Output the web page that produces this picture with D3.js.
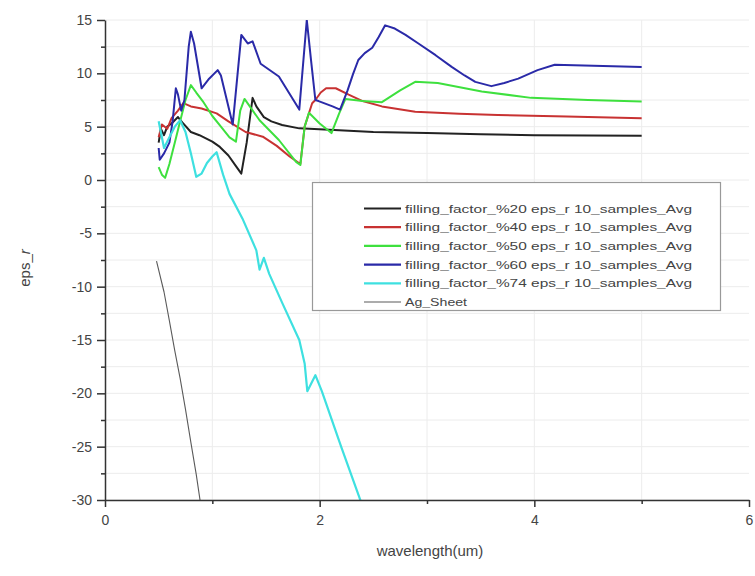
<!DOCTYPE html>
<html>
<head>
<meta charset="utf-8">
<script src="https://cdn.jsdelivr.net/npm/d3@7"></script>
<style>
  body { margin: 0; background: #fff; }
  svg { font-family: "Liberation Sans", Arial, sans-serif; }
</style>
</head>
<body>
<svg id="chart" width="755" height="576"></svg>
<script>
// Relative permittivity vs. wavelength for several filling factors
const ff20 = [[0.5,3.5],[0.52,4.8],[0.55,4.2],[0.58,5.0],[0.62,5.3],[0.68,5.9],[0.72,5.4],[0.8,4.5],[0.88,4.2],[1.0,3.6],[1.07,3.1],[1.15,2.3],[1.22,1.3],[1.27,0.6],[1.32,3.5],[1.375,7.7],[1.41,6.9],[1.48,5.9],[1.55,5.5],[1.65,5.15],[1.81,4.84],[2.09,4.7],[2.5,4.5],[3.0,4.4],[3.5,4.3],[4.0,4.2],[5.0,4.15]];
const ff40 = [[0.5,4.0],[0.53,5.2],[0.58,4.8],[0.62,5.8],[0.68,6.5],[0.73,7.2],[0.8,6.9],[0.9,6.7],[1.04,6.25],[1.15,5.5],[1.31,4.5],[1.47,4.06],[1.6,3.2],[1.72,2.2],[1.82,1.5],[1.86,5.0],[1.93,7.2],[1.96,7.5],[2.01,8.2],[2.06,8.6],[2.15,8.6],[2.27,8.0],[2.4,7.4],[2.58,6.9],[2.89,6.4],[3.3,6.2],[3.66,6.1],[4.3,5.95],[5.0,5.8]];
const ff50 = [[0.5,1.2],[0.53,0.5],[0.56,0.2],[0.6,1.5],[0.65,3.5],[0.7,5.5],[0.75,7.5],[0.8,8.9],[0.85,8.2],[0.91,7.4],[1.0,6.0],[1.08,5.0],[1.16,4.0],[1.22,3.6],[1.26,6.5],[1.3,7.6],[1.44,5.6],[1.62,3.75],[1.78,1.7],[1.82,1.4],[1.86,5.0],[1.9,6.3],[2.0,5.3],[2.11,4.4],[2.18,6.2],[2.24,7.6],[2.4,7.4],[2.58,7.3],[2.75,8.4],[2.89,9.2],[3.1,9.1],[3.51,8.3],[3.97,7.7],[4.5,7.5],[5.0,7.35]];
const ff60 = [[0.5,3.0],[0.51,1.9],[0.55,2.5],[0.6,3.5],[0.63,5.5],[0.66,8.6],[0.68,8.0],[0.71,6.5],[0.74,7.5],[0.78,12.5],[0.8,13.9],[0.83,12.8],[0.9,8.6],[0.97,9.5],[1.05,10.3],[1.08,9.8],[1.19,5.2],[1.27,13.6],[1.33,12.8],[1.375,13.0],[1.45,10.9],[1.62,9.7],[1.81,6.6],[1.88,15.0],[1.92,11.2],[1.96,7.5],[1.99,7.4],[2.12,6.9],[2.19,6.6],[2.26,8.4],[2.31,9.9],[2.36,11.25],[2.42,11.9],[2.49,12.4],[2.55,13.4],[2.61,14.5],[2.7,14.2],[2.8,13.6],[2.92,12.8],[3.08,11.7],[3.23,10.6],[3.35,9.8],[3.45,9.2],[3.6,8.8],[3.72,9.1],[3.85,9.5],[4.03,10.3],[4.19,10.8],[5.0,10.6]];
const ff74 = [[0.5,5.5],[0.55,3.0],[0.6,4.0],[0.65,5.0],[0.7,5.6],[0.75,4.5],[0.8,2.5],[0.85,0.3],[0.9,0.6],[0.95,1.6],[1.0,2.2],[1.04,2.6],[1.1,0.5],[1.16,-1.3],[1.28,-3.6],[1.41,-6.6],[1.44,-8.4],[1.48,-7.3],[1.53,-8.8],[1.65,-11.5],[1.81,-15],[1.86,-17.2],[1.885,-19.8],[1.96,-18.3],[2.02,-19.8],[2.2,-25],[2.4,-30.6]];
const agSheet = [[0.48,-7.6],[0.55,-10.5],[0.6,-13.2],[0.65,-16],[0.7,-18.6],[0.75,-21.5],[0.8,-24.6],[0.85,-27.6],[0.9,-31]];

const seriesNames = [
  "filling_factor_%20 eps_r 10_samples_Avg",
  "filling_factor_%40 eps_r 10_samples_Avg",
  "filling_factor_%50 eps_r 10_samples_Avg",
  "filling_factor_%60 eps_r 10_samples_Avg",
  "filling_factor_%74 eps_r 10_samples_Avg",
  "Ag_Sheet"
];
const seriesData = [ff20, ff40, ff50, ff60, ff74, agSheet];
const seriesColors = ["#222222", "#c83232", "#3ee03e", "#2a2aa8", "#3ee0e0", "#5a5a5a"];
const seriesWidths = [2, 2, 2, 2, 2.2, 1.1];

const xTicks = [0, 2, 4, 6];
const xMinorTicks = [1, 3, 5];
const yTicks = [15, 10, 5, 0, -5, -10, -15, -20, -25, -30];
const yMinorTicks = [12.5, 7.5, 2.5, -2.5, -7.5, -12.5, -17.5, -22.5, -27.5];

const svg = d3.select("#chart");
const margin = { left: 105, top: 20, right: 6, bottom: 76 };
const W = 755 - margin.left - margin.right;
const H = 576 - margin.top - margin.bottom;

const x = d3.scaleLinear().domain([0, 6]).range([margin.left, margin.left + W]);
const y = d3.scaleLinear().domain([-30, 15]).range([margin.top + H, margin.top]);

// faint grid
const grid = svg.append("g").attr("stroke", "#ececec").attr("stroke-width", 1);
[...yTicks, ...yMinorTicks].forEach(v => {
  grid.append("line").attr("x1", x(0)).attr("x2", x(6)).attr("y1", y(v)).attr("y2", y(v));
});
[1, 2, 3, 4, 5].forEach(v => {
  grid.append("line").attr("x1", x(v)).attr("x2", x(v)).attr("y1", y(-30)).attr("y2", y(15));
});

svg.append("defs").append("clipPath").attr("id", "plotClip")
  .append("rect").attr("x", margin.left).attr("y", margin.top).attr("width", W).attr("height", H);

const line = d3.line().x(d => x(d[0])).y(d => y(d[1]));
const plot = svg.append("g").attr("clip-path", "url(#plotClip)");
seriesData.forEach((data, i) => {
  plot.append("path").datum(data)
    .attr("fill", "none")
    .attr("stroke", seriesColors[i])
    .attr("stroke-width", seriesWidths[i])
    .attr("stroke-linejoin", "round")
    .attr("d", line);
});

// axes (plain hyphen for negative labels)
const fmt = d => String(d);
const axisColor = "#333";
const xAxis = svg.append("g").attr("transform", `translate(0,${margin.top + H})`)
  .call(d3.axisBottom(x).tickValues(xTicks).tickFormat(fmt).tickSizeInner(7).tickSizeOuter(0).tickPadding(8));
const xMinor = svg.append("g").attr("transform", `translate(0,${margin.top + H})`)
  .call(d3.axisBottom(x).tickValues(xMinorTicks).tickFormat("").tickSizeInner(4).tickSizeOuter(0));
xMinor.select(".domain").remove();

const yAxis = svg.append("g").attr("transform", `translate(${margin.left},0)`)
  .call(d3.axisLeft(y).tickValues(yTicks).tickFormat(fmt).tickSizeInner(8).tickSizeOuter(0).tickPadding(5));
const yMinor = svg.append("g").attr("transform", `translate(${margin.left},0)`)
  .call(d3.axisLeft(y).tickValues(yMinorTicks).tickFormat("").tickSizeInner(4).tickSizeOuter(0));
yMinor.select(".domain").remove();

[xAxis, xMinor, yAxis, yMinor].forEach(g => {
  g.selectAll(".domain, line").attr("stroke", axisColor).attr("stroke-width", 1.5);
  g.selectAll("text").attr("fill", "#444").attr("font-size", 14)
    .attr("font-family", "'Liberation Sans', Arial, sans-serif");
});

// axis titles
svg.append("text")
  .attr("x", 430).attr("y", 556)
  .attr("text-anchor", "middle").attr("font-size", 15).attr("fill", "#444")
  .text("wavelength(um)");

const yTitle = svg.append("text")
  .attr("transform", "translate(30,268) rotate(-90)")
  .attr("text-anchor", "middle").attr("font-size", 15).attr("fill", "#444");
yTitle.append("tspan").text("eps_");
yTitle.append("tspan").attr("font-style", "italic").text("r");

// legend
const lg = svg.append("g");
lg.append("rect").attr("x", 312.5).attr("y", 182.5).attr("width", 408).attr("height", 128)
  .attr("fill", "#fff").attr("stroke", "#999").attr("stroke-width", 1.2);
seriesNames.forEach((name, i) => {
  const ly = 208.5 + i * 18.7;
  lg.append("line").attr("x1", 364).attr("x2", 401).attr("y1", ly).attr("y2", ly)
    .attr("stroke", seriesColors[i]).attr("stroke-width", i === 5 ? 1.2 : 2.2);
  const t = lg.append("text").attr("x", 405).attr("y", ly + 4)
    .attr("font-size", 11.5).attr("fill", "#444").text(name);
  if (i < 5) t.attr("textLength", 287).attr("lengthAdjust", "spacingAndGlyphs");
  else t.attr("textLength", 62).attr("lengthAdjust", "spacingAndGlyphs");
});
</script>
</body>
</html>
